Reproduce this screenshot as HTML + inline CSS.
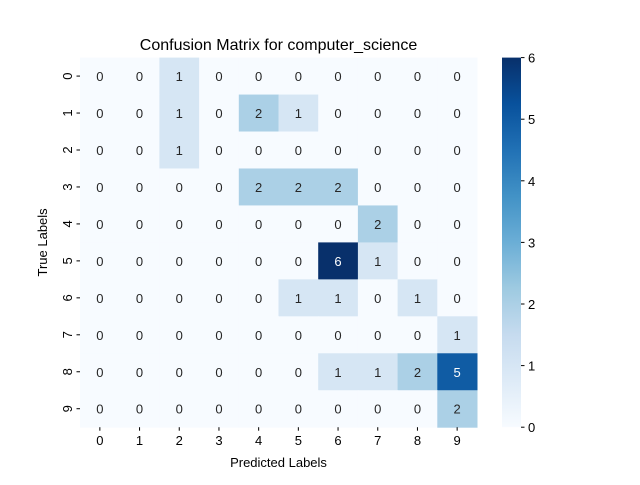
<!DOCTYPE html>
<html><head><meta charset="utf-8"><style>body{margin:0;background:#fff}svg text{font-family:"Liberation Sans",sans-serif}</style></head>
<body>
<svg id="chart" width="640" height="480" xmlns="http://www.w3.org/2000/svg"></svg>
<script>
const rowLabels=["0","1","2","3","4","5","6","7","8","9"];
const colLabels=["0","1","2","3","4","5","6","7","8","9"];
const matrix=[
[0,0,1,0,0,0,0,0,0,0],
[0,0,1,0,2,1,0,0,0,0],
[0,0,1,0,0,0,0,0,0,0],
[0,0,0,0,2,2,2,0,0,0],
[0,0,0,0,0,0,0,2,0,0],
[0,0,0,0,0,0,6,1,0,0],
[0,0,0,0,0,1,1,0,1,0],
[0,0,0,0,0,0,0,0,0,1],
[0,0,0,0,0,0,1,1,2,5],
[0,0,0,0,0,0,0,0,0,2]];
const cbTicks=[0,1,2,3,4,5,6];
const vmin=0,vmax=6;
const svg=document.getElementById('chart');
const NS="http://www.w3.org/2000/svg";
const L=80,R=477,T=57.6,B=427.2;
const cw=(R-L)/colLabels.length, ch=(B-T)/rowLabels.length;
const xs=i=>L+i*cw, ys=j=>T+j*ch;
const anchors=["#f7fbff","#deebf7","#c6dbef","#9ecae1","#6baed6","#4292c6","#2171b5","#08519c","#08306b"];
function hex(h){return [1,3,5].map(i=>parseInt(h.substr(i,2),16));}
function cmap(v){let t=(v-vmin)/(vmax-vmin)*(anchors.length-1);let i=Math.min(Math.floor(t),anchors.length-2);let f=t-i;let a=hex(anchors[i]),b=hex(anchors[i+1]);let c=a.map((x,k)=>Math.round(x+(b[k]-x)*f));return {str:`rgb(${c})`,lum:(0.299*c[0]+0.587*c[1]+0.114*c[2])/255};}
function el(tag,attrs,txt){const e=document.createElementNS(NS,tag);for(const k in attrs)e.setAttribute(k,attrs[k]);if(txt!==undefined)e.textContent=txt;svg.appendChild(e);return e;}
matrix.forEach((row,j)=>row.forEach((v,i)=>{
 const c=cmap(v);
 const r=el('rect',{x:xs(i),y:ys(j),width:cw+0.5,height:ch+0.5,fill:c.str});
 
 
 const t=el('text',{x:xs(i)+cw/2,y:ys(j)+ch/2+5,'text-anchor':'middle','font-size':13,fill:c.lum<0.5?'#fff':'#262626'},v);
 
 
}));
colLabels.forEach((l,i)=>{const x=xs(i)+cw/2;el('line',{x1:x,x2:x,y1:B,y2:B+3.5,stroke:'#000'});
 const t=el('text',{x:x,y:B+18,'text-anchor':'middle','font-size':13},l);
 
 });
rowLabels.forEach((l,j)=>{const y=ys(j)+ch/2;el('line',{x1:L-3.5,x2:L,y1:y,y2:y,stroke:'#000'});
 const t=el('text',{x:L-8,y:y,'text-anchor':'middle','font-size':13,transform:`rotate(-90 ${L-13} ${y})`},l);
 t.setAttribute('x',L-13);t.setAttribute('y',y+5);
 
 });
let t=el('text',{x:(L+R)/2,y:467,'text-anchor':'middle','font-size':13},'Predicted Labels');

t=el('text',{x:47,y:(T+B)/2,'text-anchor':'middle','font-size':13,transform:`rotate(-90 47 ${(T+B)/2})`},'True Labels');

t=el('text',{x:(L+R)/2,y:50,'text-anchor':'middle','font-size':16},'Confusion Matrix for computer_science');

// colorbar
const CL=502,CR=521;
const cy=v=>B-(v-vmin)/(vmax-vmin)*(B-T);
const defs=el('defs',{});
const g=document.createElementNS(NS,'linearGradient');g.setAttribute('id','cbg');g.setAttribute('x1','0');g.setAttribute('y1','1');g.setAttribute('x2','0');g.setAttribute('y2','0');defs.appendChild(g);
anchors.forEach((c,k)=>{const s=document.createElementNS(NS,'stop');s.setAttribute('offset',k/(anchors.length-1));s.setAttribute('stop-color',c);g.appendChild(s);});
const cb=el('rect',{x:CL,y:T,width:CR-CL,height:B-T,fill:'url(#cbg)'});

cbTicks.forEach(v=>{const y=cy(v);el('line',{x1:CR,x2:CR+3.5,y1:y,y2:y,stroke:'#000'});
 const tt=el('text',{x:CR+7,y:y+5,'font-size':13},v);
 });
</script>
</body></html>
